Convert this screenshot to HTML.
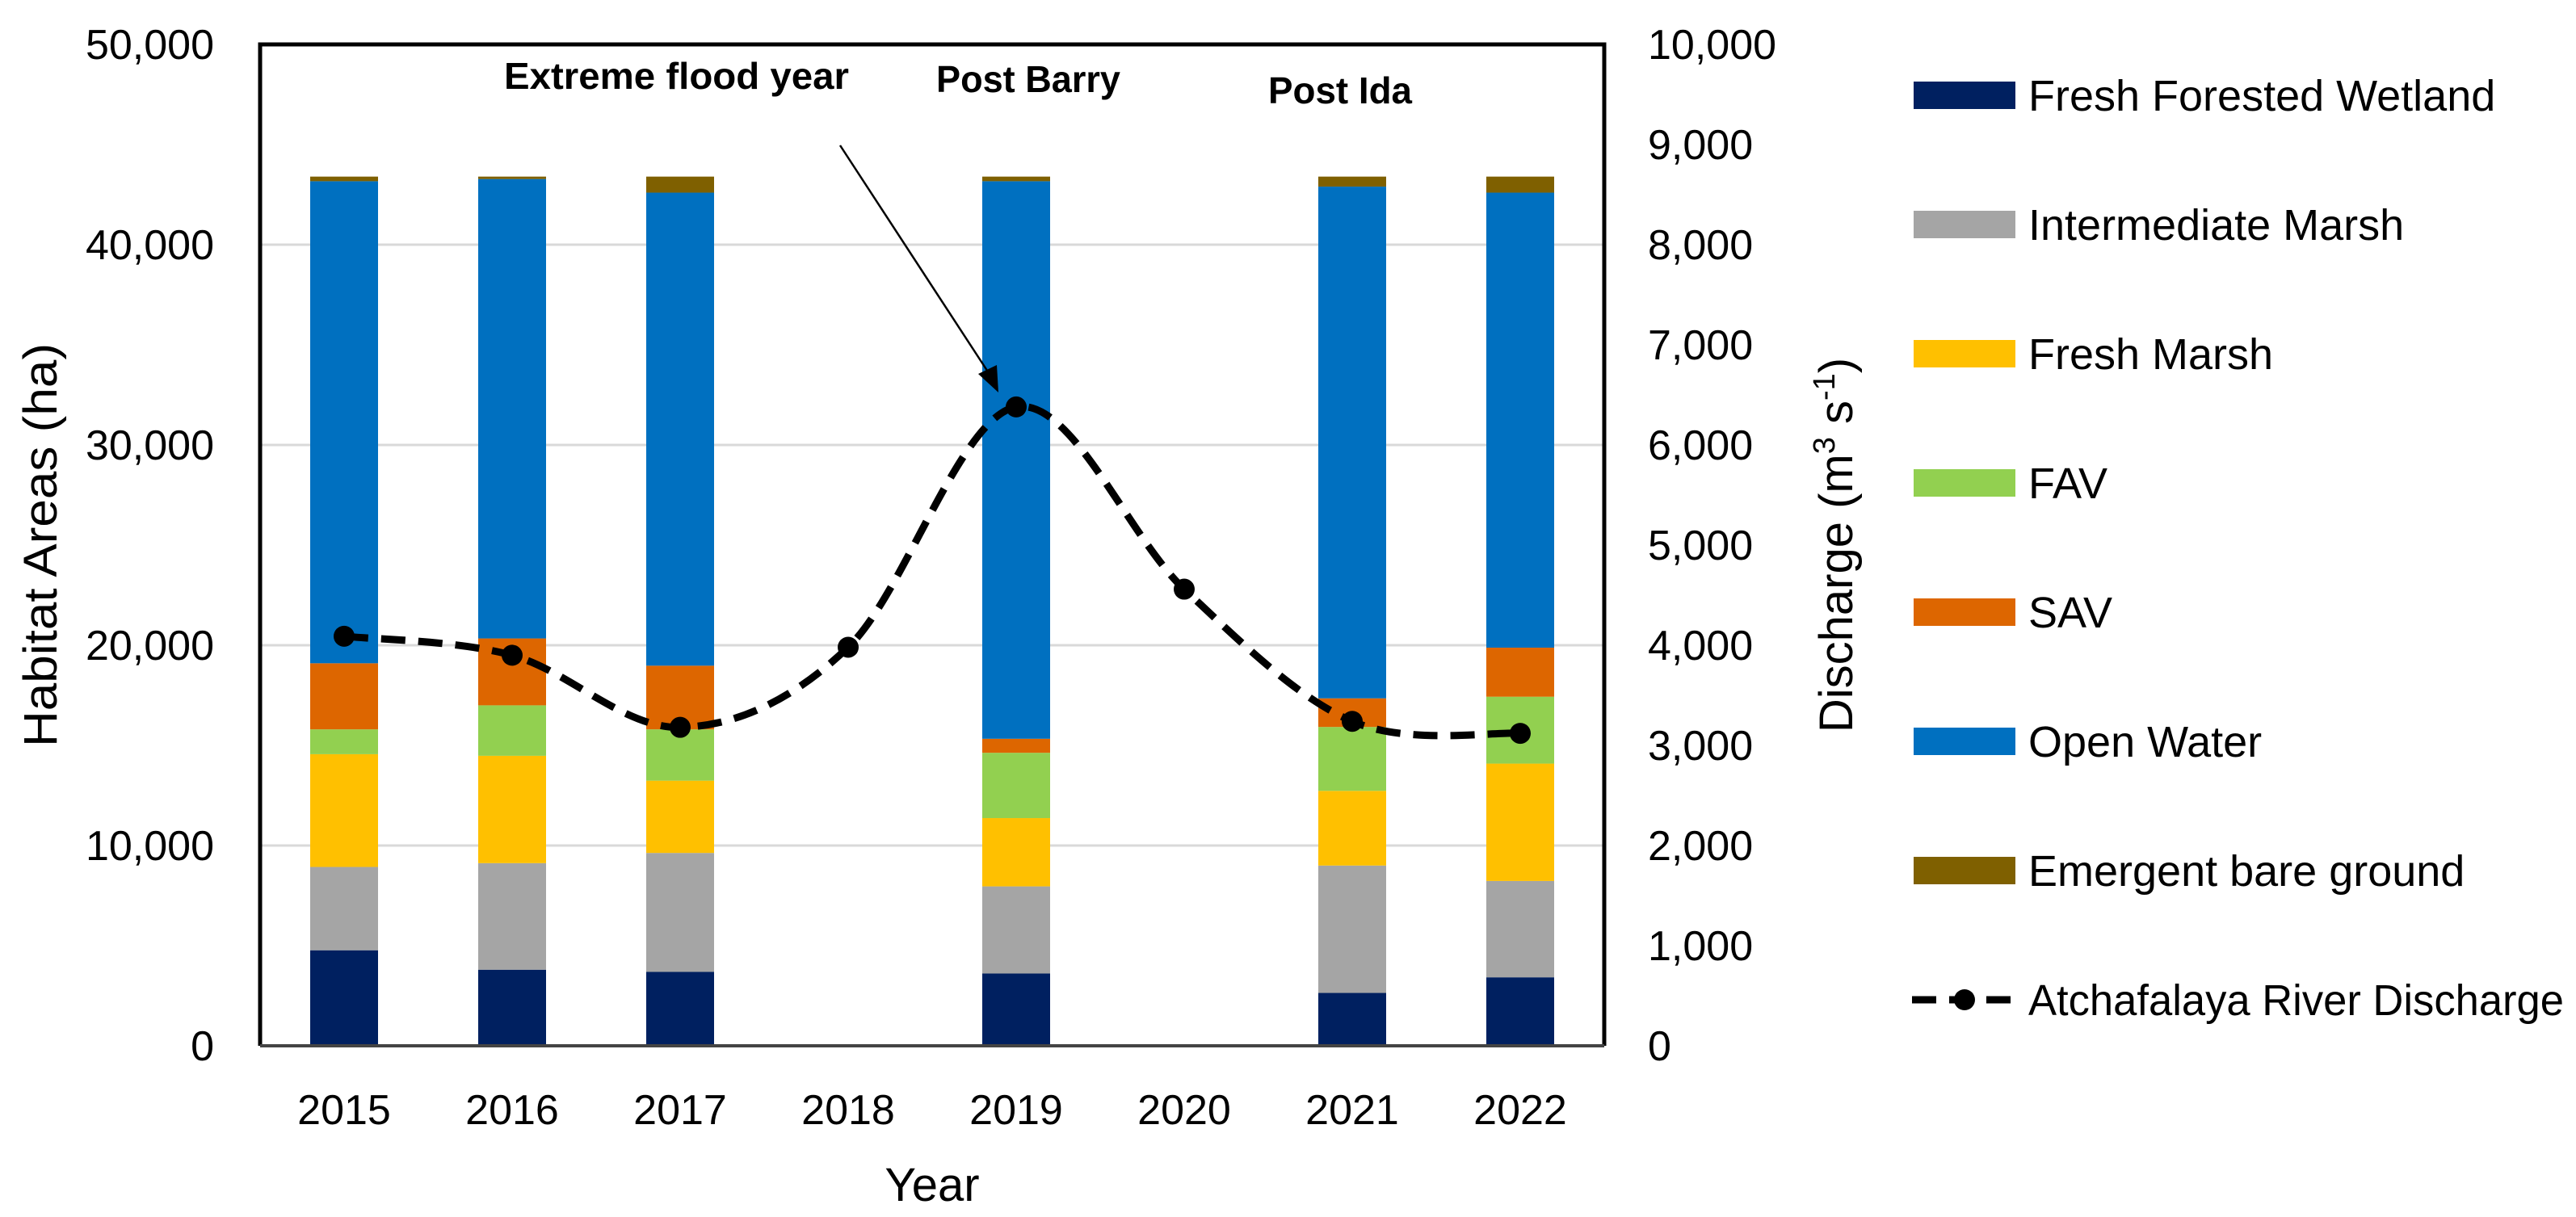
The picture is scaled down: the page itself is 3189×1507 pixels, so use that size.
<!DOCTYPE html>
<html><head><meta charset="utf-8"><style>
html,body{margin:0;padding:0;background:#fff}
svg{display:block}
text{font-family:"Liberation Sans",sans-serif;fill:#000}
</style></head><body>
<svg id="chart" width="3189" height="1507" viewBox="0 0 3189 1507" xmlns="http://www.w3.org/2000/svg"></svg>
<script>
const years = ["2015","2016","2017","2018","2019","2020","2021","2022"];
const freshForested = [4770,3800,3690,null,3610,null,2640,3420];
const intermediateMarsh = [4160,5320,5940,null,4350,null,6360,4810];
const freshMarsh = [5630,5360,3610,null,3410,null,3730,5860];
const fav = [1240,2520,2560,null,3260,null,3190,3340];
const sav = [3300,3340,3180,null,700,null,1430,2450];
const openWater = [24070,22940,23620,null,27840,null,25550,22720];
const bareGround = [230,120,800,null,230,null,500,800];
const discharge = [4090,3900,3180,3980,6380,4560,3240,3120];
const leftTicks = [0,10000,20000,30000,40000,50000];
const rightTicks = [0,1000,2000,3000,4000,5000,6000,7000,8000,9000,10000];
const seriesNames = ["Fresh Forested Wetland","Intermediate Marsh","Fresh Marsh","FAV","SAV","Open Water","Emergent bare ground"];
const seriesColors = ["#002060","#a5a5a5","#ffc000","#92d050","#dd6600","#0070c0","#7f6000"];

const svg = document.getElementById('chart');
const NS = "http://www.w3.org/2000/svg";
const L=322, R=1986, T=55, B=1295;
const yL = v => B - v/50000*(B-T);
const yR = v => B - v/10000*(B-T);
const band = (R-L)/years.length;
const xC = i => L + band/2 + band*i;
const barW = 84;
function mk(tag, attrs, parent){const e=document.createElementNS(NS,tag);for(const k in attrs)e.setAttribute(k,attrs[k]);(parent||svg).appendChild(e);return e;}
function fmt(v){return v.toLocaleString('en-US');}

leftTicks.forEach(t=>{ if(t>0&&t<50000){const g=mk('line',{x1:L,x2:R,y1:yL(t),y2:yL(t),stroke:'#d9d9d9','stroke-width':3});

}});

const allSeries=[freshForested,intermediateMarsh,freshMarsh,fav,sav,openWater,bareGround];
years.forEach((yr,i)=>{
  let acc=0;
  allSeries.forEach((s,k)=>{
    const v=s[i]; if(v==null) return;
    const r=mk('rect',{x:xC(i)-barW/2,y:yL(acc+v),width:barW,height:yL(acc)-yL(acc+v),fill:seriesColors[k]});
    
    
    acc+=v;
  });
});

const fr=mk('path',{d:`M${L},${B} L${L},${T} L${R},${T} L${R},${B}`,fill:'none',stroke:'#000','stroke-width':5});


const xa=mk('line',{x1:L,x2:R,y1:B,y2:B,stroke:'#444','stroke-width':4});



leftTicks.forEach(t=>{const e=mk('text',{x:265,y:yL(t)+18,'text-anchor':'end','font-size':52});e.textContent=fmt(t);

});
rightTicks.forEach(t=>{const e=mk('text',{x:2040,y:yR(t)+18,'text-anchor':'start','font-size':52});e.textContent=fmt(t);

});
years.forEach((yr,i)=>{const e=mk('text',{x:xC(i),y:1392,'text-anchor':'middle','font-size':52});e.textContent=yr;

});

const xt=mk('text',{x:(L+R)/2,y:1487,'text-anchor':'middle','font-size':58});xt.textContent='Year';


const lt=mk('text',{x:0,y:0,'text-anchor':'middle','font-size':58,transform:'translate(70,675) rotate(-90)',textLength:500,lengthAdjust:'spacingAndGlyphs'});lt.textContent='Habitat Areas (ha)';


const rt=mk('text',{x:0,y:0,'text-anchor':'middle','font-size':58,transform:'translate(2293,675) rotate(-90)'});


rt.innerHTML='Discharge (m<tspan dy="-22" font-size="38">3</tspan><tspan dy="22"> s</tspan><tspan dy="-22" font-size="38">-1</tspan><tspan dy="22">)</tspan>';

const pts=discharge.map((v,i)=>[xC(i),yR(v)]);
let d=`M${pts[0][0]},${pts[0][1]}`;
for(let i=0;i<pts.length-1;i++){
  const p0=pts[Math.max(0,i-1)],p1=pts[i],p2=pts[i+1],p3=pts[Math.min(pts.length-1,i+2)];
  const c1=[p1[0]+(p2[0]-p0[0])/6,p1[1]+(p2[1]-p0[1])/6];
  const c2=[p2[0]-(p3[0]-p1[0])/6,p2[1]-(p3[1]-p1[1])/6];
  d+=` C${c1[0]},${c1[1]} ${c2[0]},${c2[1]} ${p2[0]},${p2[1]}`;
}
const ln=mk('path',{d:d,fill:'none',stroke:'#000','stroke-width':9,'stroke-dasharray':'30 16'});


pts.forEach((p,i)=>{const c=mk('circle',{cx:p[0],cy:p[1],r:13,fill:'#000'});

});

const a1=mk('text',{x:624,y:110,'font-size':46,'font-weight':'bold',textLength:427,lengthAdjust:'spacingAndGlyphs'});a1.textContent='Extreme flood year';


const a2=mk('text',{x:1159,y:114,'font-size':46,'font-weight':'bold',textLength:228,lengthAdjust:'spacingAndGlyphs'});a2.textContent='Post Barry';


const a3=mk('text',{x:1570,y:128,'font-size':46,'font-weight':'bold',textLength:178,lengthAdjust:'spacingAndGlyphs'});a3.textContent='Post Ida';


const ar=mk('line',{x1:1040,y1:180,x2:1228,y2:468,stroke:'#000','stroke-width':2.5});


const ah=mk('polygon',{points:'1236,486 1211,463 1234,452',fill:'#000'});



const legY=[118,278,438,598,758,918,1078];
seriesNames.forEach((n,k)=>{
  const g=mk('g',{});
  
  
  mk('rect',{x:2369,y:legY[k]-17,width:126,height:34,fill:seriesColors[k]},g);
  const t=mk('text',{x:2511,y:legY[k]+19,'font-size':54},g);t.textContent=n;
});
const lg=mk('g',{});


mk('line',{x1:2367,x2:2497,y1:1238,y2:1238,stroke:'#000','stroke-width':9,'stroke-dasharray':'30 16'},lg);
mk('circle',{cx:2432,cy:1238,r:13,fill:'#000'},lg);
const lt2=mk('text',{x:2511,y:1257,'font-size':54,textLength:663,lengthAdjust:'spacingAndGlyphs'},lg);lt2.textContent='Atchafalaya River Discharge';
</script>
</body></html>
